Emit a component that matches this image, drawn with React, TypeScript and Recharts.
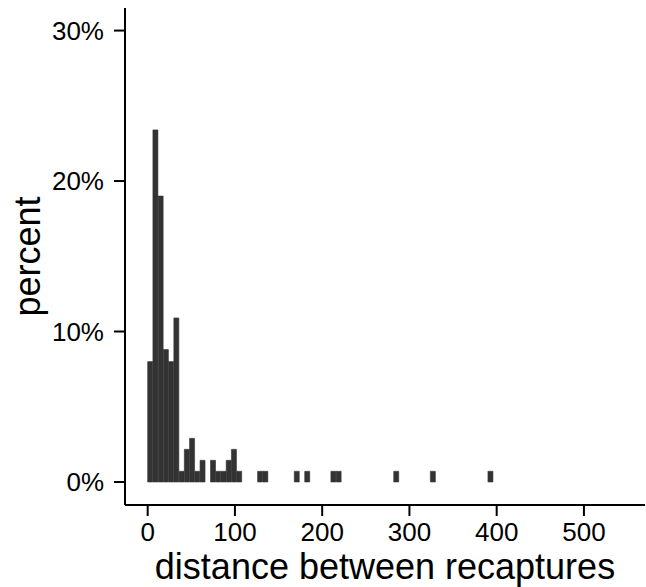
import React from 'react';
import { BarChart, Bar, XAxis, YAxis, Label } from 'recharts';

// histogram bins are 6 units wide; values are the bin midpoints
const binMidpoints = [
  3, 9, 15, 21, 27, 33, 39, 45, 51, 57, 63, 75, 81, 87, 93, 99, 105,
  129, 135, 171, 183, 213, 219, 285, 327, 393,
];
const percentValues = [
  8.0, 23.4, 19.0, 8.8, 8.0, 10.9, 0.71, 2.17, 2.9, 0.71, 1.44, 1.44, 0.71, 0.71, 1.44, 2.17, 0.71,
  0.71, 0.71, 0.71, 0.71, 0.71, 0.71, 0.71, 0.71, 0.71,
];
const xTicks = [0, 100, 200, 300, 400, 500];
const yTicks = [0, 10, 20, 30];

const data = binMidpoints.map((d, i) => ({ distance: d, percent: percentValues[i] }));

const FONT = '"Liberation Sans", Arial, sans-serif';
const tickStyle = { fontSize: 26, fill: '#000', fontFamily: FONT };
const axisStroke = { stroke: '#000', strokeWidth: 2 };

export default function App() {
  return (
    <div style={{ position: 'absolute', left: 0, top: 0, background: '#fff' }}>
      <BarChart
        width={646}
        height={587}
        data={data}
        margin={{ top: 8, right: 1, bottom: 0, left: 0 }}
        barCategoryGap={0}
        barGap={0}
      >
        <XAxis
          dataKey="distance"
          type="number"
          domain={[-26, 570]}
          allowDataOverflow
          ticks={xTicks}
          height={82}
          tickSize={11}
          tickMargin={7}
          tick={tickStyle}
          axisLine={axisStroke}
          tickLine={axisStroke}
        >
          <Label
            value="distance between recaptures"
            position="insideBottom"
            offset={8}
            style={{ fontSize: 36, fill: '#000', fontFamily: FONT }}
          />
        </XAxis>
        <YAxis
          type="number"
          domain={[-1.53, 31.5]}
          allowDataOverflow
          ticks={yTicks}
          width={125}
          tickSize={11}
          tickMargin={10}
          tick={tickStyle}
          tickFormatter={(v: number) => `${v}%`}
          axisLine={axisStroke}
          tickLine={axisStroke}
        >
          <Label
            value="percent"
            angle={-90}
            position="insideLeft"
            offset={27}
            style={{ fontSize: 36, fill: '#000', fontFamily: FONT, textAnchor: 'middle' }}
          />
        </YAxis>
        <Bar
          dataKey="percent"
          fill="#333333"
          stroke="#333333"
          strokeWidth={0.6}
          isAnimationActive={false}
        />
      </BarChart>
    </div>
  );
}
